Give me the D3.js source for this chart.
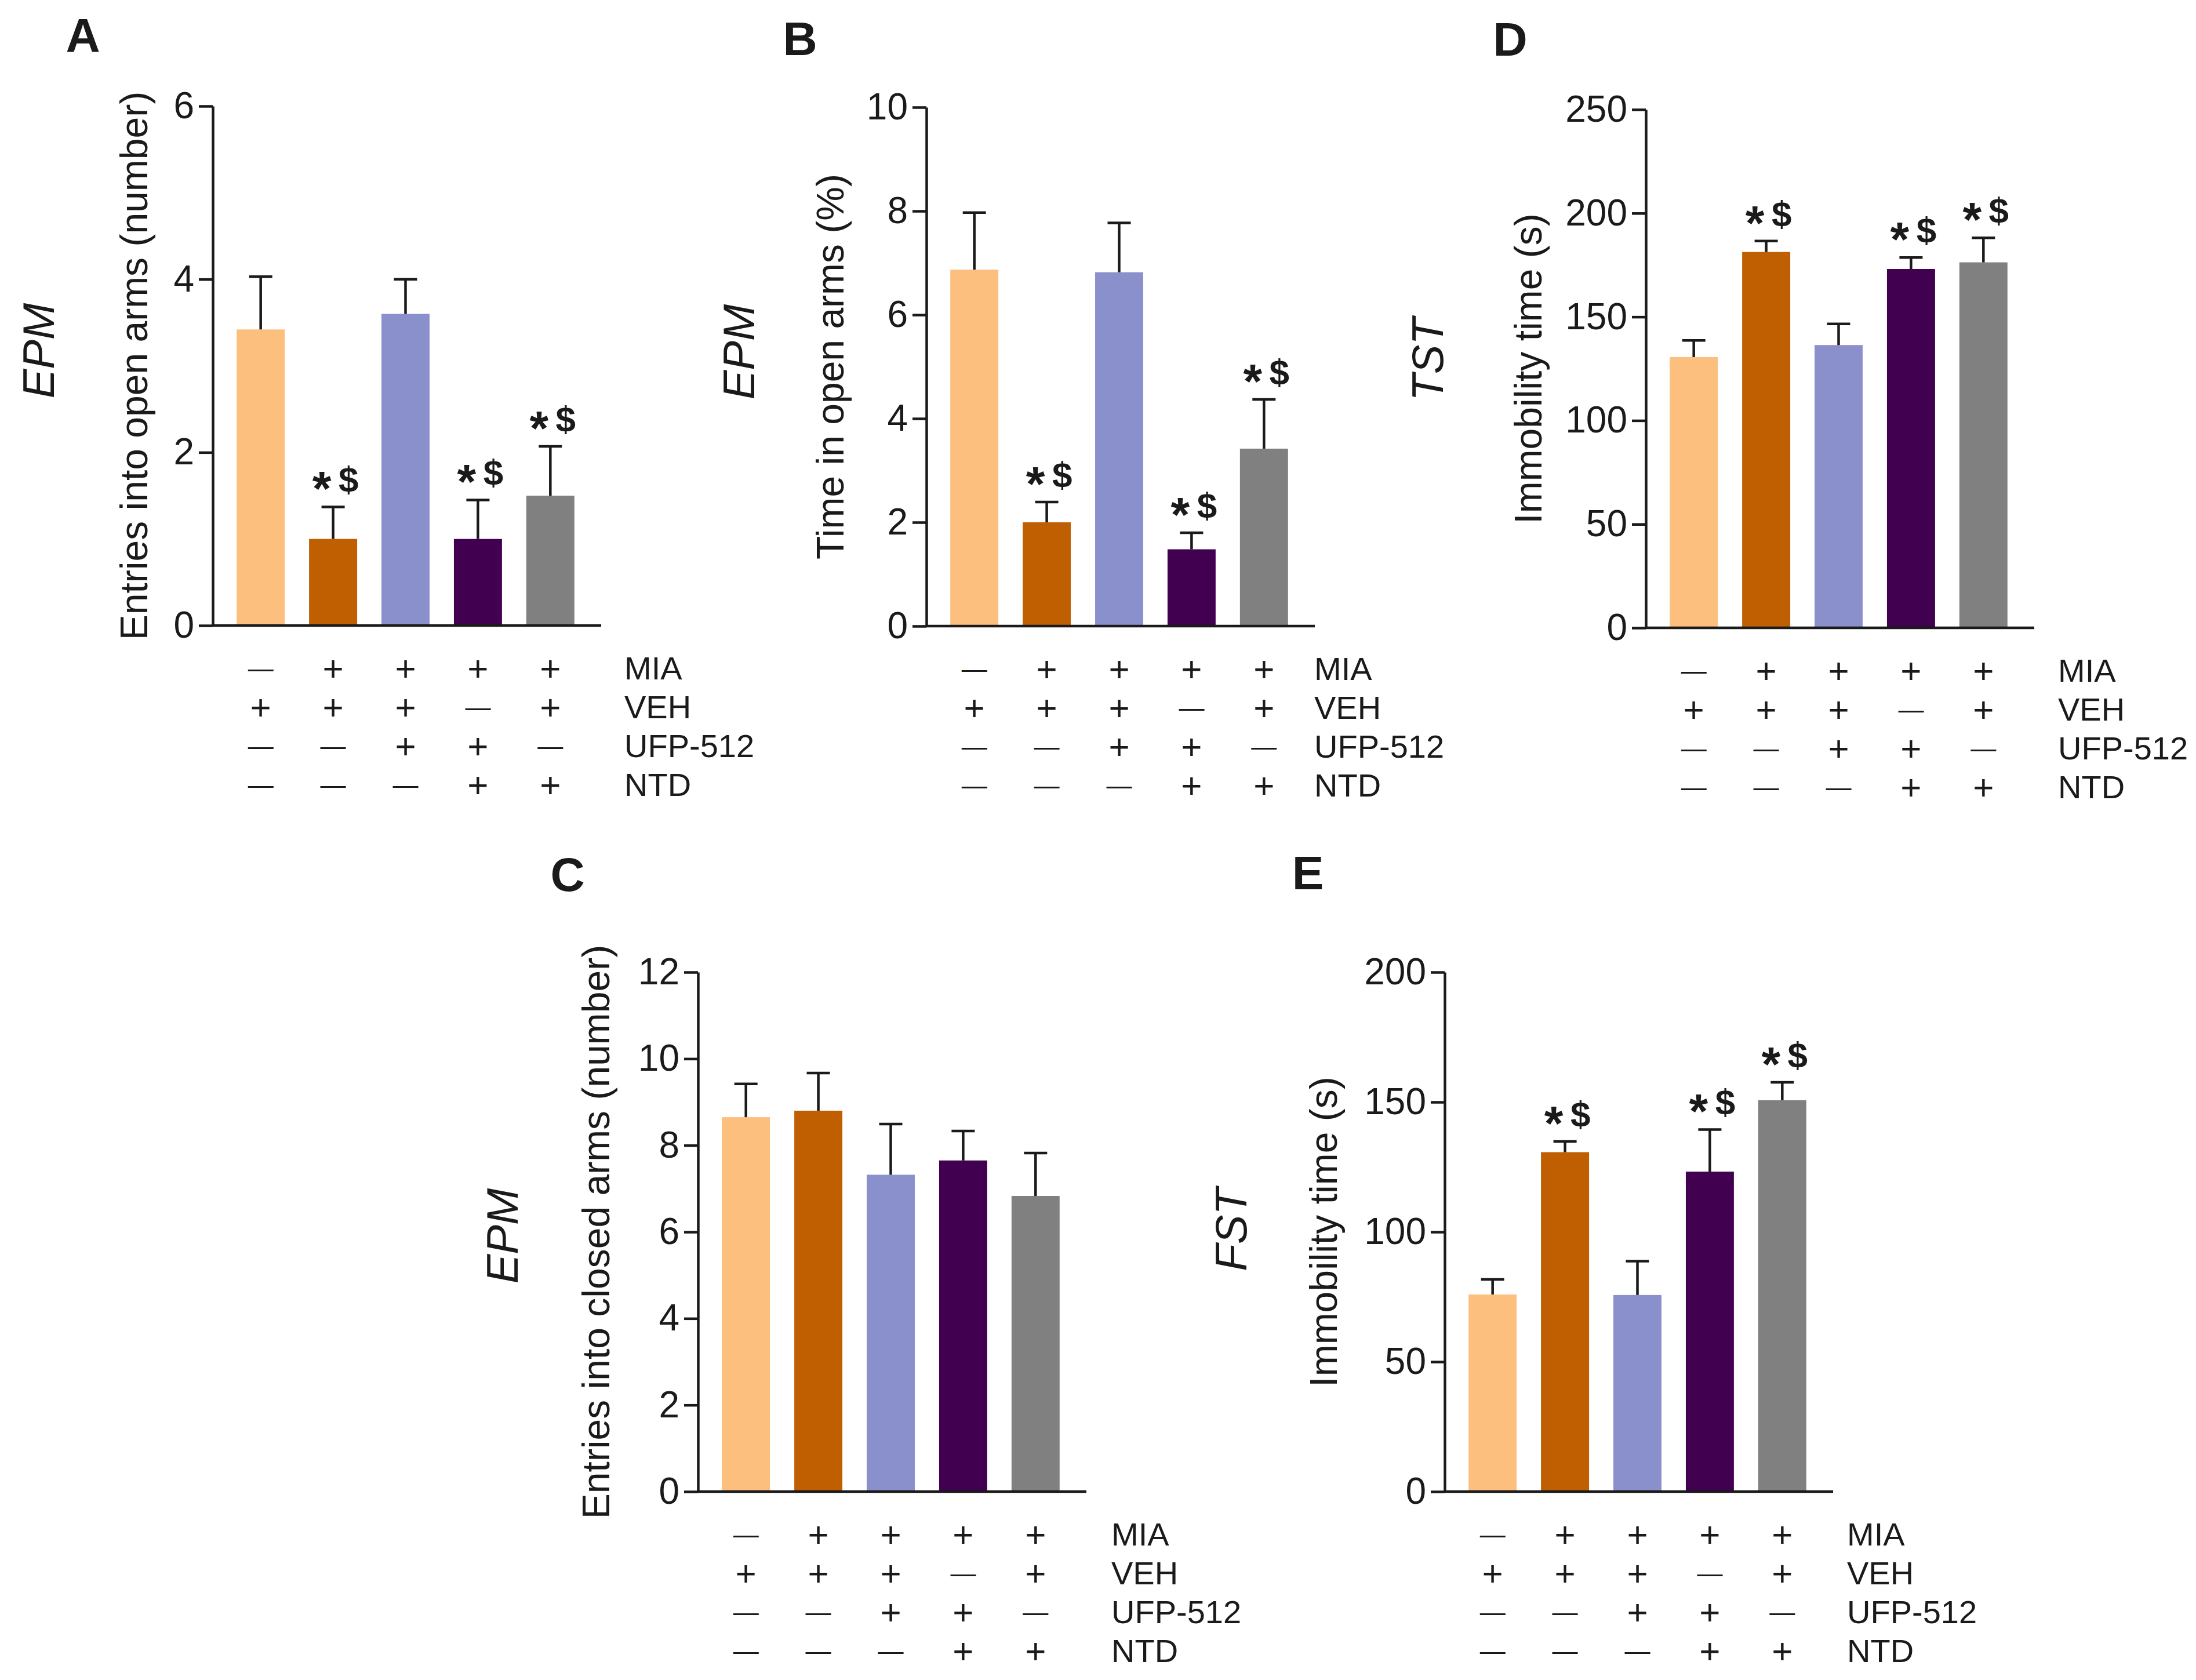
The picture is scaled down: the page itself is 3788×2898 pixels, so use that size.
<!DOCTYPE html>
<html lang="en">
<head>
<meta charset="UTF-8">
<title>EPM / TST / FST bar charts</title>
<style>
  html, body { margin: 0; padding: 0; background: #fff; }
  svg { display: block; }
  text { font-family: "Liberation Sans", Arial, sans-serif; fill: #1a1a1a; }
</style>
</head>
<body>
<svg id="fig" width="3788" height="2898"></svg>
<script src="https://cdn.jsdelivr.net/npm/d3@7"></script>
<script>
// ---- data ----
const groups = ["MIA-/VEH", "MIA/VEH", "MIA/VEH/UFP-512", "MIA/UFP-512/NTD", "MIA/VEH/NTD"];
const conditions = ["MIA", "VEH", "UFP-512", "NTD"];
// one row per condition, one column per group
const treatment = [
  ["-", "+", "+", "+", "+"],
  ["+", "+", "+", "-", "+"],
  ["-", "-", "+", "+", "-"],
  ["-", "-", "-", "+", "+"]
];
const groupColors = ["#fcbf7e", "#c05f02", "#8a90cb", "#410050", "#808080"];

const openEntriesMean = [3.42, 1.0, 3.6, 1.0, 1.5];
const openEntriesSem  = [0.61, 0.37, 0.4, 0.45, 0.57];
const openTimeMean    = [6.87, 2.0, 6.82, 1.48, 3.42];
const openTimeSem     = [1.10, 0.39, 0.95, 0.32, 0.95];
const closedEntriesMean = [8.65, 8.8, 7.32, 7.65, 6.83];
const closedEntriesSem  = [0.77, 0.87, 1.17, 0.68, 0.99];
const tstMean = [130.6, 181.3, 136.4, 173.1, 176.3];
const tstSem  = [8.0, 5.3, 10.2, 5.5, 11.8];
const fstMean = [75.9, 130.7, 75.7, 123.2, 150.7];
const fstSem  = [5.8, 4.1, 13.0, 16.2, 6.9];

const starsSig  = [false, true, false, true, true];
const starsNone = [false, false, false, false, false];

const ticksA = [0, 2, 4, 6];
const ticksB = [0, 2, 4, 6, 8, 10];
const ticksC = [0, 2, 4, 6, 8, 10, 12];
const ticksD = [0, 50, 100, 150, 200, 250];
const ticksE = [0, 50, 100, 150, 200];

// ---- layout ----
const panels = [
  { letter: "A", test: "EPM", ylabel: "Entries into open arms (number)", mean: openEntriesMean, sem: openEntriesSem, ticks: ticksA, stars: starsSig,
    x0: 367, top: 183, bottom: 1079, tableX: 1077, ylabX: 231, testX: 66, testY: 605, letX: 143, letY: 60 },
  { letter: "B", test: "EPM", ylabel: "Time in open arms (%)", mean: openTimeMean, sem: openTimeSem, ticks: ticksB, stars: starsSig,
    x0: 1598, top: 185, bottom: 1080, tableX: 2267, ylabX: 1432, testX: 1274, testY: 607, letX: 1380, letY: 66 },
  { letter: "D", test: "TST", ylabel: "Immobility time (s)", mean: tstMean, sem: tstSem, ticks: ticksD, stars: starsSig,
    x0: 2839, top: 189, bottom: 1083, tableX: 3550, ylabX: 2636, testX: 2462, testY: 620, letX: 2605, letY: 67 },
  { letter: "C", test: "EPM", ylabel: "Entries into closed arms (number)", mean: closedEntriesMean, sem: closedEntriesSem, ticks: ticksC, stars: starsNone,
    x0: 1204, top: 1677, bottom: 2573, tableX: 1917, ylabX: 1028, testX: 866, testY: 2132, letX: 979, letY: 1508 },
  { letter: "E", test: "FST", ylabel: "Immobility time (s)", mean: fstMean, sem: fstSem, ticks: ticksE, stars: starsSig,
    x0: 2492, top: 1677, bottom: 2573, tableX: 3186, ylabX: 2283, testX: 2123, testY: 2121, letX: 2256, letY: 1505 }
];

const svg = d3.select("#fig");
svg.append("rect").attr("width", 3788).attr("height", 2898).attr("fill", "#fff");

const stroke = "#1a1a1a";

function drawPanel(p) {
  const g = svg.append("g");

  const x = d3.scaleBand()
    .domain(groups)
    .range([p.x0, p.x0 + 665])
    .paddingInner(0.336)
    .paddingOuter(0.33);

  const y = d3.scaleLinear()
    .domain([0, d3.max(p.ticks)])
    .range([p.bottom, p.top]);

  // bars
  g.selectAll("rect.bar")
    .data(p.mean)
    .join("rect")
    .attr("class", "bar")
    .attr("x", (d, i) => x(groups[i]))
    .attr("width", x.bandwidth())
    .attr("y", d => y(d))
    .attr("height", d => y(0) - y(d))
    .attr("fill", (d, i) => groupColors[i]);

  // error bars (upper only)
  const cap = 40;
  const err = g.append("g").attr("stroke", stroke).attr("stroke-width", 4.5);
  p.mean.forEach((m, i) => {
    const cx = x(groups[i]) + x.bandwidth() / 2;
    const yt = y(m + p.sem[i]);
    err.append("line").attr("x1", cx).attr("x2", cx).attr("y1", y(m)).attr("y2", yt);
    err.append("line").attr("x1", cx - cap / 2).attr("x2", cx + cap / 2).attr("y1", yt).attr("y2", yt);
  });

  // significance marks
  p.mean.forEach((m, i) => {
    if (!p.stars[i]) return;
    const cx = x(groups[i]) + x.bandwidth() / 2;
    const t = g.append("text")
      .attr("x", cx + 4)
      .attr("y", y(m + p.sem[i]) - 26)
      .attr("text-anchor", "middle")
      .attr("font-weight", "bold");
    t.append("tspan").attr("font-size", 84).attr("dy", 24).text("*");
    t.append("tspan").attr("font-size", 62).attr("dy", -24).text("\u2009$");
  });

  // y axis
  const ax = g.append("g")
    .attr("transform", `translate(${p.x0},0)`)
    .call(d3.axisLeft(y).tickValues(p.ticks).tickFormat(d3.format("d"))
      .tickSize(24).tickPadding(8).tickSizeOuter(0));
  ax.select(".domain").attr("stroke", stroke).attr("stroke-width", 4.5);
  ax.selectAll(".tick line").attr("stroke", stroke).attr("stroke-width", 4.5);
  ax.selectAll(".tick text")
    .attr("font-size", 64)
    .attr("font-family", '"Liberation Sans", Arial, sans-serif')
    .attr("fill", "#1a1a1a");

  // x axis baseline
  g.append("line")
    .attr("x1", p.x0).attr("x2", p.x0 + 670)
    .attr("y1", y(0)).attr("y2", y(0))
    .attr("stroke", stroke).attr("stroke-width", 4.5);

  // treatment table
  treatment.forEach((row, r) => {
    const ty = p.bottom + 73 + r * 67;
    row.forEach((s, i) => {
      const cx = x(groups[i]) + x.bandwidth() / 2;
      g.append("text")
        .attr("x", cx).attr("y", ty)
        .attr("text-anchor", "middle")
        .attr("dominant-baseline", "central")
        .attr("font-size", s === "+" ? 62 : 44)
        .text(s === "+" ? "+" : "\u2014");
    });
    g.append("text")
      .attr("x", p.tableX).attr("y", ty)
      .attr("dominant-baseline", "central")
      .attr("font-size", 56)
      .text(conditions[r]);
  });

  // y label
  g.append("text")
    .attr("transform", `translate(${p.ylabX},${(p.top + p.bottom) / 2}) rotate(-90)`)
    .attr("text-anchor", "middle")
    .attr("dominant-baseline", "central")
    .attr("font-size", 66)
    .text(p.ylabel);

  // test name
  g.append("text")
    .attr("transform", `translate(${p.testX},${p.testY}) rotate(-90)`)
    .attr("text-anchor", "middle")
    .attr("dominant-baseline", "central")
    .attr("font-size", 76)
    .attr("font-style", "italic")
    .text(p.test);

  // panel letter
  g.append("text")
    .attr("x", p.letX).attr("y", p.letY)
    .attr("text-anchor", "middle")
    .attr("dominant-baseline", "central")
    .attr("font-size", 82)
    .attr("font-weight", "bold")
    .attr("fill", "#000")
    .text(p.letter);
}

panels.forEach(drawPanel);
</script>
</body>
</html>
